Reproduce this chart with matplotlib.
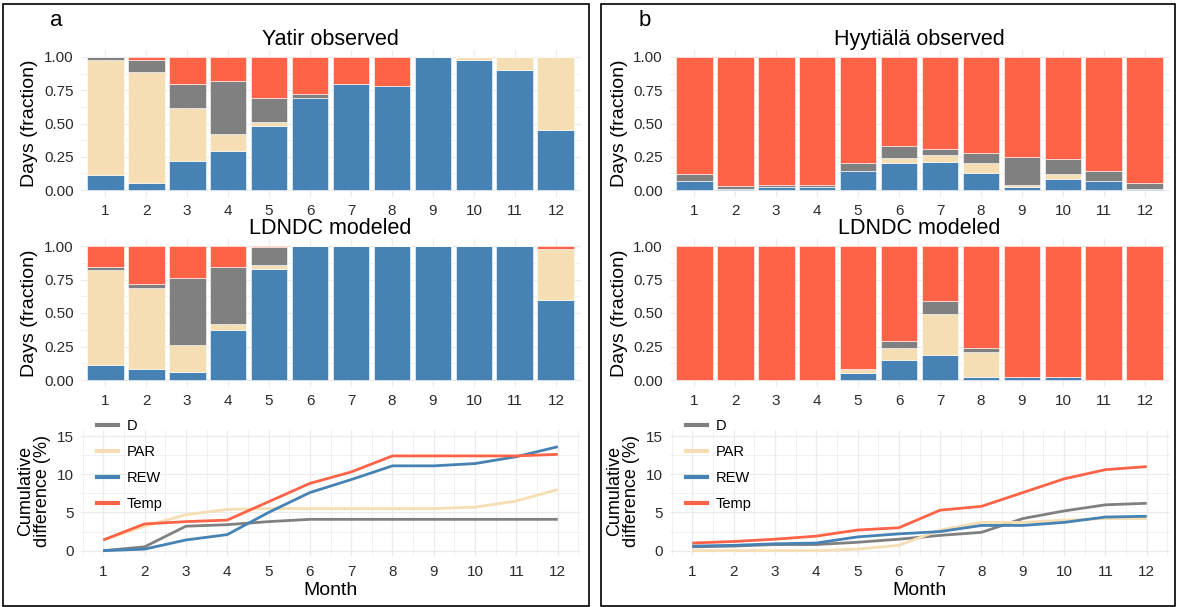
import numpy as np
import matplotlib
matplotlib.use("Agg")
import matplotlib.pyplot as plt
from matplotlib.lines import Line2D
from matplotlib.patches import Rectangle

plt.rcParams["font.family"] = ["Liberation Sans", "DejaVu Sans"]

W, H = 1177, 607

months = list(range(1, 13))
stack_order = ["REW", "PAR", "D", "Temp"]   # bottom -> top in the bars
legend_order = ["D", "PAR", "REW", "Temp"]
colors = {"D": "#808080", "PAR": "#F5DEB3", "REW": "#4682B4", "Temp": "#FF6347"}

# fraction of days each driver is limiting (Yatir, observed)
yatir_obs_rew = [0.11, 0.05, 0.22, 0.29, 0.48, 0.69, 0.80, 0.78, 1.00, 0.98, 0.90, 0.45]
yatir_obs_par = [0.87, 0.84, 0.40, 0.13, 0.03, 0.00, 0.00, 0.00, 0.00, 0.02, 0.10, 0.55]
yatir_obs_d = [0.02, 0.09, 0.18, 0.40, 0.18, 0.03, 0.00, 0.00, 0.00, 0.00, 0.00, 0.00]
yatir_obs_temp = [0.00, 0.02, 0.20, 0.18, 0.31, 0.28, 0.20, 0.22, 0.00, 0.00, 0.00, 0.00]

# Yatir, LDNDC modeled
yatir_mod_rew = [0.11, 0.08, 0.06, 0.37, 0.83, 1.00, 1.00, 1.00, 1.00, 1.00, 1.00, 0.60]
yatir_mod_par = [0.71, 0.61, 0.20, 0.05, 0.03, 0.00, 0.00, 0.00, 0.00, 0.00, 0.00, 0.38]
yatir_mod_d = [0.02, 0.03, 0.50, 0.42, 0.13, 0.00, 0.00, 0.00, 0.00, 0.00, 0.00, 0.00]
yatir_mod_temp = [0.16, 0.28, 0.24, 0.16, 0.01, 0.00, 0.00, 0.00, 0.00, 0.00, 0.00, 0.02]

# Hyytiala, observed
hyy_obs_rew = [0.07, 0.01, 0.025, 0.025, 0.14, 0.20, 0.21, 0.13, 0.02, 0.08, 0.07, 0.01]
hyy_obs_par = [0.00, 0.00, 0.00, 0.00, 0.00, 0.04, 0.05, 0.07, 0.015, 0.04, 0.00, 0.00]
hyy_obs_d = [0.05, 0.02, 0.01, 0.01, 0.06, 0.09, 0.05, 0.08, 0.215, 0.11, 0.07, 0.04]
hyy_obs_temp = [0.88, 0.97, 0.965, 0.965, 0.80, 0.67, 0.69, 0.72, 0.75, 0.77, 0.86, 0.95]

# Hyytiala, LDNDC modeled
hyy_mod_rew = [0.00, 0.00, 0.00, 0.00, 0.05, 0.15, 0.19, 0.02, 0.02, 0.02, 0.00, 0.00]
hyy_mod_par = [0.00, 0.00, 0.00, 0.00, 0.03, 0.09, 0.30, 0.19, 0.00, 0.00, 0.00, 0.00]
hyy_mod_d = [0.00, 0.00, 0.00, 0.00, 0.00, 0.05, 0.10, 0.03, 0.00, 0.00, 0.00, 0.00]
hyy_mod_temp = [1.00, 1.00, 1.00, 1.00, 0.92, 0.71, 0.41, 0.76, 0.98, 0.98, 1.00, 1.00]

# cumulative difference (%) between observed and modeled
yatir_cum_d = [0.0, 0.5, 3.2, 3.4, 3.8, 4.1, 4.1, 4.1, 4.1, 4.1, 4.1, 4.1]
yatir_cum_par = [1.4, 3.2, 4.7, 5.4, 5.5, 5.5, 5.5, 5.5, 5.5, 5.7, 6.5, 8.0]
yatir_cum_rew = [0.0, 0.2, 1.4, 2.1, 5.0, 7.6, 9.3, 11.1, 11.1, 11.4, 12.3, 13.6]
yatir_cum_temp = [1.4, 3.5, 3.8, 4.0, 6.4, 8.8, 10.3, 12.4, 12.4, 12.4, 12.4, 12.6]

hyy_cum_d = [0.5, 0.6, 0.8, 0.8, 1.1, 1.5, 2.0, 2.4, 4.2, 5.2, 6.0, 6.2]
hyy_cum_par = [0.0, 0.0, 0.0, 0.0, 0.2, 0.7, 2.7, 3.7, 3.7, 4.0, 4.2, 4.2]
hyy_cum_rew = [0.6, 0.7, 0.9, 1.0, 1.8, 2.2, 2.5, 3.3, 3.3, 3.7, 4.4, 4.5]
hyy_cum_temp = [1.0, 1.2, 1.5, 1.9, 2.7, 3.0, 5.3, 5.8, 7.6, 9.4, 10.6, 11.0]

GRID = "#EBEBEB"
TICK = "#2B2B2B"


def add_axes_px(fig, x0, y0, x1, y1):
    return fig.add_axes([x0 / W, 1 - y1 / H, (x1 - x0) / W, (y1 - y0) / H])


def minimal(ax):
    ax.set_facecolor("white")
    for s in ax.spines.values():
        s.set_visible(False)
    ax.tick_params(which="both", length=0, labelsize=11, labelcolor=TICK)
    ax.grid(which="major", color=GRID, linewidth=0.9)
    ax.grid(which="minor", color=GRID, linewidth=0.5)
    ax.set_axisbelow(True)


def bar_panel(ax, parts, title):
    minimal(ax)
    bottom = np.zeros(len(months))
    for name in stack_order:
        vals = np.array(parts[name])
        ax.bar(months, vals, width=0.9, bottom=bottom, color=colors[name],
               edgecolor="white", linewidth=0.4)
        bottom += vals
    ax.set_xlim(0.4, 12.6)
    ax.set_ylim(-0.05, 1.05)
    ax.set_xticks(months)
    ax.set_yticks([0, 0.25, 0.5, 0.75, 1.0])
    ax.set_yticklabels(["0.00", "0.25", "0.50", "0.75", "1.00"])
    ax.set_yticks([0.125, 0.375, 0.625, 0.875], minor=True)
    ax.xaxis.grid(False, which="minor")
    ax.tick_params(axis="x", pad=5.5)
    ax.tick_params(axis="y", pad=5)
    ax.set_title(title, fontsize=15.5, pad=2.5)


def line_panel(ax, series, legend_x):
    minimal(ax)
    for name in legend_order:
        ax.plot(months, series[name], color=colors[name], linewidth=2.0,
                solid_capstyle="butt")
    ax.set_xlim(0.45, 12.55)
    ax.set_ylim(-0.75, 15.75)
    ax.set_xticks(months)
    ax.set_xticks(np.arange(0.5, 13, 1.0), minor=True)
    ax.set_yticks([0, 5, 10, 15])
    ax.set_yticks([2.5, 7.5, 12.5], minor=True)
    ax.tick_params(axis="x", pad=6)
    ax.tick_params(axis="y", pad=5)
    ax.set_xlabel("Month", fontsize=14, labelpad=2)
    handles = [Line2D([], [], color=colors[n], linewidth=3) for n in legend_order]
    ax.legend(handles, legend_order, loc="upper left", frameon=False,
              bbox_to_anchor=(legend_x / W, 1 - 419 / H),
              bbox_transform=ax.figure.transFigure, fontsize=10.5,
              handlelength=1.45, handletextpad=0.6, labelspacing=0.82,
              borderpad=0, borderaxespad=0)


fig = plt.figure(figsize=(W / 100, H / 100), dpi=100)

panels = [
    {
        "dx": 0, "letter": "a", "site": "Yatir observed",
        "obs": {"REW": yatir_obs_rew, "PAR": yatir_obs_par, "D": yatir_obs_d, "Temp": yatir_obs_temp},
        "mod": {"REW": yatir_mod_rew, "PAR": yatir_mod_par, "D": yatir_mod_d, "Temp": yatir_mod_temp},
        "cum": {"D": yatir_cum_d, "PAR": yatir_cum_par, "REW": yatir_cum_rew, "Temp": yatir_cum_temp},
    },
    {
        "dx": 589, "letter": "b", "site": "Hyytiälä observed",
        "obs": {"REW": hyy_obs_rew, "PAR": hyy_obs_par, "D": hyy_obs_d, "Temp": hyy_obs_temp},
        "mod": {"REW": hyy_mod_rew, "PAR": hyy_mod_par, "D": hyy_mod_d, "Temp": hyy_mod_temp},
        "cum": {"D": hyy_cum_d, "PAR": hyy_cum_par, "REW": hyy_cum_rew, "Temp": hyy_cum_temp},
    },
]

for p in panels:
    dx = p["dx"]
    x0, x1 = 80.5 + dx, 580.5 + dx

    ax_obs = add_axes_px(fig, x0, 50.3, x1, 196.7)
    bar_panel(ax_obs, p["obs"], p["site"])
    ax_mod = add_axes_px(fig, x0, 239.3, x1, 386.7)
    bar_panel(ax_mod, p["mod"], "LDNDC modeled")
    ax_cum = add_axes_px(fig, x0, 430.3, x1, 556.4)
    line_panel(ax_cum, p["cum"], 97 + dx)

    fig.text((30 + dx) / W, 1 - 123.5 / H, "Days (fraction)", rotation=90,
             ha="center", va="center", fontsize=14)
    fig.text((30 + dx) / W, 1 - 313 / H, "Days (fraction)", rotation=90,
             ha="center", va="center", fontsize=14)
    fig.text((34 + dx) / W, 1 - 491 / H, "Cumulative\ndifference (%)", rotation=90,
             ha="center", va="center", fontsize=13, linespacing=1.0)
    fig.text((56 + dx) / W, 1 - 20 / H, p["letter"], ha="center", va="center",
             fontsize=16)

    left = 3 + (598 if dx else 0)
    right = 589 if not dx else 1175
    fig.patches.append(Rectangle((left / W, 1 - 606 / H), (right - left) / W,
                                 602 / H, transform=fig.transFigure,
                                 fill=False, edgecolor="black", linewidth=1.2))

fig.savefig("out.png", dpi=100)
